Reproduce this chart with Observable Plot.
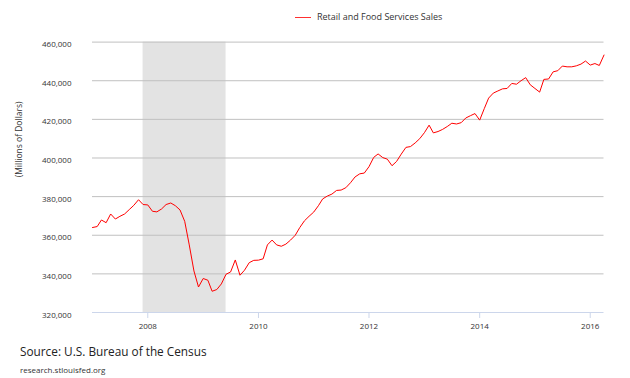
<!DOCTYPE html>
<html>
<head>
<meta charset="utf-8">
<script src="https://cdn.jsdelivr.net/npm/d3@7"></script>
<script src="https://cdn.jsdelivr.net/npm/@observablehq/plot@0.6"></script>
<style>
  body { margin: 0; background: #fff; font-family: "Open Sans", sans-serif; }
  #wrap { position: relative; width: 630px; height: 378px; overflow: hidden; }
  #legend { position: absolute; top: 0; left: 0; width: 630px; height: 30px; }
  #legend .sw { position: absolute; left: 295px; top: 16.5px; width: 16px; height: 1px; background: #ff3030; }
  #legend .lab { position: absolute; left: 317px; top: 10px; font-size: 9px; line-height: 13px; color: #333; }
  #chart { position: absolute; top: 30px; left: 0; }
  #source { position: absolute; left: 20px; top: 344px; font-size: 11.8px; color: #222; line-height: 15px; }
  #site { position: absolute; left: 20px; top: 365px; font-size: 8px; color: #333; line-height: 10px; }
</style>
</head>
<body>
<div id="wrap">
  <div id="legend"><div class="sw"></div><div class="lab">Retail and Food Services Sales</div></div>
  <div id="chart"></div>
  <div id="source">Source: U.S. Bureau of the Census</div>
  <div id="site">research.stlouisfed.org</div>
</div>
<script>
// Monthly values, millions of dollars
const sales2007 = [364000, 364500, 367900, 366500, 371000, 368400, 369800, 371000, 373300, 375500, 378400, 375900];
const sales2008 = [375700, 372400, 372100, 373600, 375900, 376700, 375300, 373100, 367200, 355000, 341500, 333200];
const sales2009 = [337600, 336700, 331000, 331900, 334800, 339800, 341000, 347200, 339300, 341900, 345800, 347000];
const sales2010 = [347100, 347800, 355000, 357500, 355000, 354300, 355400, 357500, 360000, 364000, 367500, 369800];
const sales2011 = [372000, 375300, 378800, 380300, 381300, 383200, 383400, 384600, 387200, 390200, 391800, 392200];
const sales2012 = [395500, 400300, 402100, 400200, 399400, 396000, 398200, 402000, 405500, 405900, 407800, 410000];
const sales2013 = [413100, 417000, 413000, 413700, 414800, 416300, 418000, 417600, 418300, 420700, 421900, 423000];
const sales2014 = [419600, 425700, 431000, 433600, 434700, 435800, 436000, 438600, 438200, 440000, 441600, 437900];
const sales2015 = [436000, 434100, 440700, 440900, 444600, 445200, 447600, 447200, 447200, 447700, 448600, 450200];
const sales2016 = [448100, 448900, 447900, 453300];
const years = [2007, 2008, 2009, 2010, 2011, 2012, 2013, 2014, 2015, 2016];
const yearly = [sales2007, sales2008, sales2009, sales2010, sales2011, sales2012, sales2013, sales2014, sales2015, sales2016];

const recession = [{start: "2007-12-01", end: "2009-06-01"}];
const yTicks = [320000, 340000, 360000, 380000, 400000, 420000, 440000, 460000];
const xTickYears = [2008, 2010, 2012, 2014, 2016];

const data = [];
years.forEach((y, i) => yearly[i].forEach((v, m) => data.push({date: new Date(Date.UTC(y, m, 1)), value: v})));
const rec = recession.map(r => ({x1: new Date(r.start), x2: new Date(r.end)}));
const xTicks = xTickYears.map(y => new Date(Date.UTC(y, 0, 1)));

const chart = Plot.plot({
  width: 630,
  height: 310,
  marginTop: 11.6,
  marginBottom: 28,
  marginLeft: 92,
  marginRight: 26.5,
  style: {fontFamily: "Open Sans, sans-serif", fontSize: "8px", color: "#333", background: "transparent"},
  x: {type: "utc", domain: [new Date(Date.UTC(2007, 0, 1)), new Date(Date.UTC(2016, 3, 1))]},
  y: {domain: [320000, 460000]},
  marks: [
    Plot.rect(rec, {x1: "x1", x2: "x2", y1: 320000, y2: 460000, fill: "#e3e3e3"}),
    Plot.ruleY(yTicks.filter(t => t > 320000), {stroke: "#c0c0c0", strokeWidth: 1}),
    Plot.ruleY([320000], {stroke: "#ccd6eb", strokeWidth: 1}),
    Plot.axisY({ticks: yTicks, tickSize: 0, tickPadding: 21, tickFormat: d3.format(","), label: null, dy: 2.5}),
    Plot.axisX({ticks: xTicks, tickSize: 6, tickPadding: 5, stroke: "#ccd6eb", tickFormat: d3.utcFormat("%Y"), label: null}),
    Plot.text(["(Millions of Dollars)"], {frameAnchor: "left", rotate: -90, dx: -73, fontSize: 8.5, fill: "#333"}),
    Plot.lineY(data, {x: "date", y: "value", stroke: "#ff0000", strokeWidth: 1})
  ]
});
document.getElementById("chart").appendChild(chart);
</script>
</body>
</html>
